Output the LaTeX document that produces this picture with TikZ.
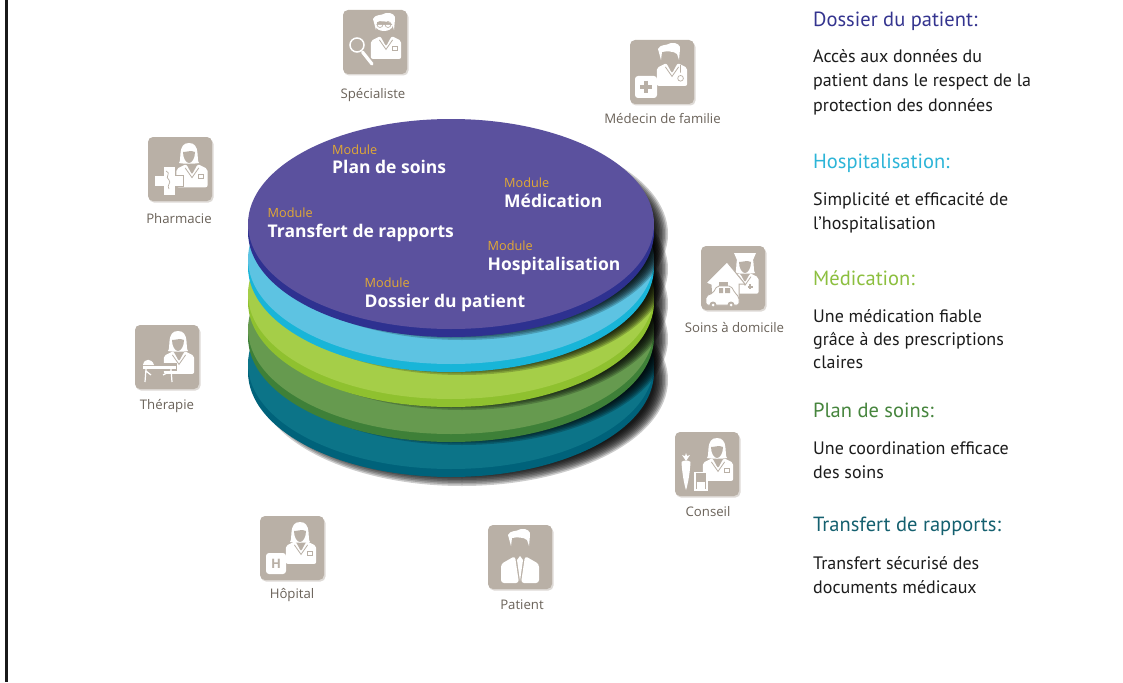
\documentclass[tikz,border=0pt]{standalone}
\usepackage{fontspec}
\setmainfont{Open Sans}
\newfontfamily\rightfont{PT Sans}
\definecolor{tan}{HTML}{B9B0A6}
\definecolor{tanshadow}{HTML}{DEDAD6}
\definecolor{labelc}{HTML}{6A6259}
\definecolor{gold}{HTML}{E2A934}
\definecolor{bodyc}{HTML}{1C1C1C}
\definecolor{fa}{HTML}{5B519E}\definecolor{ra}{HTML}{2E3190}
\definecolor{fb}{HTML}{5DC3E2}\definecolor{rb}{HTML}{18B5D8}
\definecolor{fc}{HTML}{A5CE48}\definecolor{rc}{HTML}{8FC12F}
\definecolor{fd}{HTML}{669A4F}\definecolor{rd}{HTML}{3E8038}
\definecolor{fe}{HTML}{0C7488}\definecolor{re}{HTML}{00627A}
\definecolor{ha}{HTML}{34348F}\definecolor{hb}{HTML}{2DB5D8}
\definecolor{hc}{HTML}{8CBF3F}\definecolor{hd}{HTML}{46853D}
\definecolor{he}{HTML}{14606F}
\tikzset{
 iconbox/.style={fill=tan,rounded corners=5pt,minimum size=64pt,inner sep=0pt,outer sep=0pt},
 iconlabel/.style={text=labelc,font=\fontsize{13.2}{15}\selectfont,inner sep=0pt,anchor=base},
 modsmall/.style={text=gold,font=\fontsize{12.7}{14}\selectfont,inner sep=0pt,anchor=base west},
 modbig/.style={text=white,font=\fontsize{17.5}{19}\selectfont\bfseries,inner sep=0pt,anchor=base west},
 headc/.style={font=\rightfont\fontsize{20.5}{23}\selectfont,inner sep=0pt,anchor=base west},
 bodyt/.style={text=bodyc,font=\rightfont\fontsize{18}{20}\selectfont,inner sep=0pt,anchor=base west},
 tanline/.style={draw=tan,line width=0.8pt},
}
% disc: centre y, face colour, rim colour, extra shadow drop
\newcommand\disc[4]{%
 \foreach \i in {0,...,9}{
  \fill[black,opacity=0.2] (462,#1+10+#4) ellipse [x radius={203+3-1.5*\i},y radius={105+1-1.5*\i}];
 }
 \fill[#3] (248,#1) rectangle (654,#1+8);
 \fill[#3] (451,#1+8) ellipse [x radius=203,y radius=105];
 \fill[#2] (451,#1) ellipse [x radius=203,y radius=105];
}
\newcommand\jacket[4][1]{% x, y (neck centre), extras
 \begin{scope}[shift={(#2,#3)},scale=#1]
 \fill[white,rounded corners=2pt] (-16,22) -- (-16,3) -- (-6,-2) -- (0,9) -- (6,-2) -- (16,3) -- (16,22) -- cycle;
 \draw[tanline] (-7,2) -- (0,12) -- (7,2);
 #4
 \end{scope}}
\newcommand\pocket{\draw[tan,line width=0.7pt] (7,9) rectangle (12,13);}
\newcommand\womanhead[2]{%
 \begin{scope}[shift={(#1,#2)}]
 \fill[white] (-10,10) .. controls (-7,7) and (-12,-10) .. (0,-10) .. controls (12,-10) and (7,7) .. (10,10) .. controls (5,11) and (-5,11) .. cycle;
 \fill[tan] (-6,-1) .. controls (-2,-1) and (2,-3) .. (6,-1) .. controls (6,5) and (3,10) .. (0,10) .. controls (-3,10) and (-6,5) .. cycle;
 \end{scope}}
\newcommand\manhair[2]{%
 \begin{scope}[shift={(#1,#2)}]
 \fill[white] (-11,-3) .. controls (-9,-8) and (-3,-6) .. (2,-9) .. controls (8,-10) and (12,-6) .. (11,-3) -- (10,8) -- (8,2) .. controls (5,-1) and (-3,-1) .. (-7,0) -- (-8,8) -- cycle;
 \end{scope}}
\begin{document}
\begin{tikzpicture}[x=1pt,y=-1pt]
\useasboundingbox (0,0) rectangle (1123,682);
\fill[white] (0,0) rectangle (1123,682);
\fill[black!90] (5,0) rectangle (8,682);
% stack
\disc{364}{fe}{re}{6}
\disc{329}{fd}{rd}{0}
\disc{294}{fc}{rc}{0}
\disc{259}{fb}{rb}{0}
\disc{224}{fa}{ra}{0}
% module labels
\node[modsmall] (m1) at (332,154) {Module};
\node[modbig] (m1b) at (332,173) {Plan de soins};
\node[modsmall] (m2) at (504,187) {Module};
\node[modbig] (m2b) at (504,207) {Médication};
\node[modsmall] (m3) at (267.5,217) {Module};
\node[modbig] (m3b) at (267.5,237) {Transfert de rapports};
\node[modsmall] (m4) at (487.5,250) {Module};
\node[modbig] (m4b) at (487.5,270) {Hospitalisation};
\node[modsmall] (m5) at (364.5,287) {Module};
\node[modbig] (m5b) at (364.5,307) {Dossier du patient};
% icon boxes
\foreach \n/\x/\y in {spec/375/42,med/662/72,soin/733/278,conseil/707/464,patient/520/557,hop/292/548,ther/167/357,phar/180/169}{
 \fill[tanshadow,rounded corners=5pt] (\x-31,\y-30) rectangle (\x+33.5,\y+33.5);
 \node[iconbox] (\n) at (\x,\y) {};
}
% Specialist
\begin{scope}[shift={(spec.north west)}]
 \manhair{41}{12}
 \fill[white] (32,15) -- (50,15) .. controls (49,23) and (33,23) .. (32,15);
 \draw[tan,line width=0.6pt] (37,14.5) circle [radius=3] (45,14.5) circle [radius=3];
 \jacket[0.95]{43}{28}{\pocket}
 \draw[white,line width=1.5pt] (14,35) circle [radius=7];
 \draw[white,line width=3.2pt,line cap=round] (19.5,42) -- (29,54);
\end{scope}
% Medecin
\begin{scope}[shift={(med.north west)}]
 \manhair{39}{12}
 \jacket[0.95]{42}{25}{\draw[tan,line width=0.7pt] (9,0) -- (9,8) (9,14) circle [radius=3];}
 \fill[white,rounded corners=3pt] (5,36) rectangle (27,58);
 \draw[tan,line width=3.5pt] (16,41) -- (16,53) (10,47) -- (22,47);
\end{scope}
% Soins
\begin{scope}[shift={(soin.north west)}]
 \womanhead{44}{17}
 \fill[white] (33,7) -- (55,7) -- (52,14) -- (36,14) -- cycle;
 \jacket[0.85]{44}{29}{\draw[tan,line width=1.6pt] (6,11) -- (6,17) (3,14) -- (9,14);}
 \draw[tan,line width=1pt,fill=white] (26,16) -- (5,37) -- (10,39) -- (11,52) -- (38,52) -- (38,38) -- (44,38) -- cycle;
 \fill[tan] (18,36) rectangle (27,44);
 \draw[tan,fill=white,line width=0.8pt,rounded corners=2pt] (5,59) -- (5,50) -- (12,47) -- (16,40) -- (30,40) -- (34,47) -- (38,51) -- (38,59) -- cycle;
 \fill[tan] (18,42) rectangle (22,47) (24,42) rectangle (29,47);
 \fill[tan] (12,59) circle [radius=3.5] (30,59) circle [radius=3.5];
 \fill[white] (12,59) circle [radius=1.5] (30,59) circle [radius=1.5];
\end{scope}
% Conseil
\begin{scope}[shift={(conseil.north west)}]
 \womanhead{42}{16}
 \jacket[0.95]{43}{28}{\pocket}
 \fill[white] (6.5,30) .. controls (8,28) and (14,28) .. (15.5,30) .. controls (15,40) and (13,52) .. (11,58) .. controls (9,52) and (7,40) .. (6.5,30);
 \fill[white] (11,29) -- (7,23) -- (10,24) -- (11,21) -- (12,24) -- (15,23) -- cycle;
 \draw[white,line width=1.4pt,fill=tan] (20,40.5) rectangle (32,58);
 \fill[white] (22,50) rectangle (30,57);
\end{scope}
% Patient
\begin{scope}[shift={(patient.north west)}]
 \manhair{31}{13}
 \fill[white,rounded corners=3pt] (13,58) -- (13,39) -- (27,31) -- (31,58) -- cycle;
 \fill[white,rounded corners=3pt] (51,58) -- (51,39) -- (37,31) -- (33,58) -- cycle;
 \fill[white] (32,31) -- (35,35) -- (32,56) -- (29,35) -- cycle;
\end{scope}
% Hopital
\begin{scope}[shift={(hop.north west)}]
 \womanhead{40}{16}
 \jacket[0.95]{41}{27}{\pocket}
 \fill[white,rounded corners=3pt] (6,37) rectangle (26,58);
 \node[text=tan,font=\bfseries\fontsize{13}{13}\selectfont,inner sep=0pt] (hlet) at (16,47.5) {H};
\end{scope}
% Therapie
\begin{scope}[shift={(ther.north west)}]
 \womanhead{43}{16}
 \jacket[0.95]{44}{28}{}
 \fill[tan] (27,38) rectangle (42,46);
 \fill[white] (8,41) -- (41,41) -- (41,44) -- (8,44) -- cycle;
 \fill[white] (8,40) .. controls (9,33) and (17,33) .. (19,40) -- cycle;
 \draw[white,line width=1.2pt] (11,44) -- (10,57) (11,46) -- (16,50) (36,44) -- (37,57) (36,46) -- (28,50);
\end{scope}
% Pharmacie
\begin{scope}[shift={(phar.north west)}]
 \womanhead{41}{16}
 \jacket[0.97]{44}{29}{\pocket}
 \draw[tan,line width=1pt,fill=white] (15,29) -- (27,29) -- (27,38) -- (35,38) -- (35,49) -- (27,49) -- (27,58) -- (15,58) -- (15,49) -- (6,49) -- (6,38) -- (15,38) -- cycle;
 \draw[tan,line width=0.7pt] (18,34) .. controls (24,36) and (16,40) .. (21,43) .. controls (24,46) and (18,48) .. (21,52);
\end{scope}
% icon labels
\node[iconlabel] (lspec) at (373,98.5) {Spécialiste};
\node[iconlabel] (lmed) at (662.5,123) {Médecin de familie};
\node[iconlabel] (lsoin) at (734.5,332.5) {Soins à domicile};
\node[iconlabel] (lcons) at (708,516.5) {Conseil};
\node[iconlabel] (lpat) at (522,609) {Patient};
\node[iconlabel] (lhop) at (292,598.5) {Hôpital};
\node[iconlabel] (lther) at (167,409.5) {Thérapie};
\node[iconlabel] (lphar) at (179,223.5) {Pharmacie};
% right column
\node[headc,text=ha] (h1) at (813,27) {Dossier du patient:};
\node[bodyt] (b11) at (813,63) {Accès aux données du};
\node[bodyt] (b12) at (813,87) {patient dans le respect de la};
\node[bodyt] (b13) at (813,111) {protection des données};
\node[headc,text=hb] (h2) at (813,168) {Hospitalisation:};
\node[bodyt] (b21) at (813,205) {Simplicité et efficacité de};
\node[bodyt] (b22) at (813,229) {l’hospitalisation};
\node[headc,text=hc] (h3) at (813,285) {Médication:};
\node[bodyt] (b31) at (813,322) {Une médication fiable};
\node[bodyt] (b32) at (813,345) {grâce à des prescriptions};
\node[bodyt] (b33) at (813,368) {claires};
\node[headc,text=hd] (h4) at (813,417) {Plan de soins:};
\node[bodyt] (b41) at (813,454) {Une coordination efficace};
\node[bodyt] (b42) at (813,478) {des soins};
\node[headc,text=he] (h5) at (813,531) {Transfert de rapports:};
\node[bodyt] (b51) at (813,569) {Transfert sécurisé des};
\node[bodyt] (b52) at (813,593) {documents médicaux};
\end{tikzpicture}
\end{document}
